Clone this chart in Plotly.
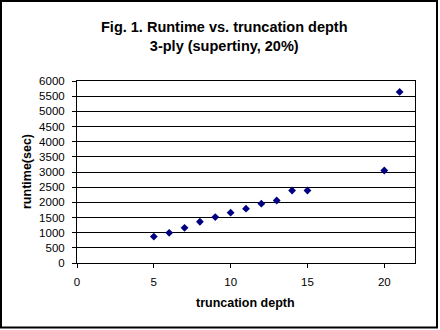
import plotly.graph_objects as go

# Runtime measurements for each truncation depth
depth = [5, 6, 7, 8, 9, 10, 11, 12, 13, 14, 15, 20, 21]
runtime_sec = [870, 995, 1160, 1360, 1515, 1660, 1790, 1955, 2060, 2390, 2390, 3050, 5640]

x_ticks = [0, 5, 10, 15, 20]
y_ticks = list(range(0, 6001, 500))

FONT = "Liberation Sans, Arial, sans-serif"

W, H = 440, 330
L, R, T, B = 77, 25, 81, 67
pw, ph = W - L - R, H - T - B


def px_to_paper(px, py):
    return (px - L) / pw, (H - B - py) / ph


fig = go.Figure()
fig.add_trace(go.Scatter(
    x=depth, y=runtime_sec, mode="markers",
    marker=dict(symbol="diamond", size=6, color="#000080",
                line=dict(width=0)),
    showlegend=False,
))

axis_common = dict(
    showline=True, linecolor="black", linewidth=1, mirror=True,
    ticks="outside", ticklen=4, tickcolor="black", tickwidth=1,
    tickfont=dict(family=FONT, size=11.5, color="black"),
    zeroline=False,
)

fig.update_xaxes(range=[0, 22], tickvals=x_ticks, showgrid=False,
                 ticklabelstandoff=4, **axis_common)
fig.update_yaxes(range=[0, 6000], tickvals=y_ticks, showgrid=True,
                 gridcolor="black", gridwidth=1, ticklabelstandoff=5,
                 **axis_common)

# Outer chart frame
x0, y0 = px_to_paper(1, 1)
x1, y1 = px_to_paper(437, 327.5)
fig.add_shape(type="rect", xref="paper", yref="paper",
              x0=x0, y0=y1, x1=x1, y1=y0,
              line=dict(color="black", width=2), layer="above")

# Two-line chart title
tx, ty = px_to_paper(224, 37)
fig.add_annotation(
    xref="paper", yref="paper", x=tx, y=ty, xanchor="center", yanchor="middle",
    text="<b>Fig. 1. Runtime vs. truncation depth</b><br><b>3-ply (supertiny, 20%)</b>",
    showarrow=False, align="center",
    font=dict(family=FONT, size=14.5, color="black"),
)

# Axis titles
ax, ay = px_to_paper(245, 303)
fig.add_annotation(
    xref="paper", yref="paper", x=ax, y=ay, xanchor="center", yanchor="middle",
    text="<b>truncation depth</b>", showarrow=False,
    font=dict(family=FONT, size=12.5, color="black"),
)
yx, yy = px_to_paper(27, 172)
fig.add_annotation(
    xref="paper", yref="paper", x=yx, y=yy, xanchor="center", yanchor="middle",
    text="<b>runtime(sec)</b>", showarrow=False, textangle=-90,
    font=dict(family=FONT, size=12.5, color="black"),
)

fig.update_layout(
    width=W, height=H,
    margin=dict(l=L, r=R, t=T, b=B, pad=0),
    paper_bgcolor="white", plot_bgcolor="white",
    font=dict(family=FONT, color="black"),
)

fig.write_html("out.html")
